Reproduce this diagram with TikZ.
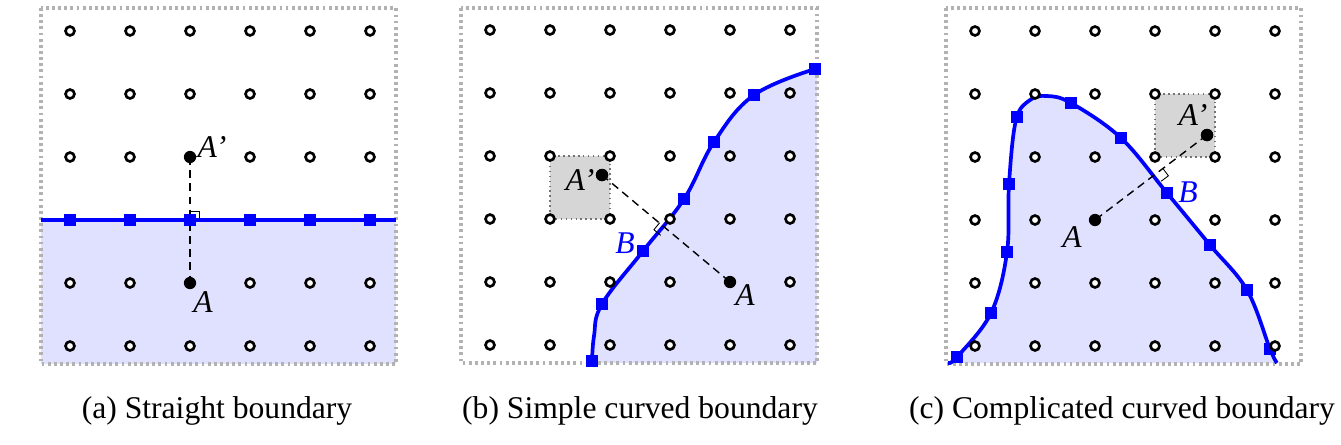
\documentclass[tikz,border=0pt]{standalone}
\usepackage{fontspec}
\setmainfont{Liberation Serif}
\begin{document}
\begin{tikzpicture}[x=0.02cm,y=-0.02cm,
  gdot/.style={circle,draw=black,fill=white,line width=1.5pt,inner sep=0pt,minimum size=5.1pt},
  bdot/.style={circle,fill=black,inner sep=0pt,minimum size=7pt},
  bsq/.style={rectangle,fill=blue,inner sep=0pt,minimum size=6.6pt},
  boxframe/.style={draw=black!30,line width=1.9pt,dash pattern=on 1.6pt off 1.9pt},
  regionfill/.style={fill=blue!12},
  bnd/.style={draw=blue,line width=2.1pt},
  perpline/.style={draw=black,dash pattern=on 4.5pt off 3pt,line width=0.8pt},
  ramark/.style={draw=black,line width=0.5pt},
  graybox/.style={fill=black!16,draw=black!55,line width=0.8pt,dotted},
  lbl/.style={font=\fontsize{18}{20}\selectfont\itshape,inner sep=0pt},
  blbl/.style={lbl,text=blue},
  captxt/.style={font=\fontsize{18}{20}\selectfont,anchor=base,inner sep=0pt}]
\useasboundingbox (0,0) rectangle (1341,444);

% ---------------- (a) ----------------
\fill[regionfill] (41,220) rectangle (396,364);
\draw[boxframe] (41,8) rectangle (396,364);
\draw[bnd] (41,220) -- (396,220);
\node[bdot] (Apa) at (190,157) {};
\node[bdot] (Aa) at (190,283) {};
\draw[perpline] (Apa.center) -- (Aa.center);
\draw[ramark] (190,211) -- (199,211) -- (199,220);
\foreach \x in {70,130,...,370} \node[bsq] at (\x,220) {};
\foreach \x in {70,130,...,370} \foreach \y in {31,94,157,283,346} {
  \ifnum\x=190 \ifnum\y=157 \else\ifnum\y=283 \else \node[gdot] at (\x,\y) {};\fi\fi
  \else \node[gdot] at (\x,\y) {};\fi}
\node[lbl] (la1) at (212,147) {A’};
\node[lbl] (la2) at (203,302) {A};
\node[captxt] (capa) at (217,418) {(a) Straight boundary};

% ---------------- (b) ----------------
\def\curveb{(592,363) (594,336) (602,304) (643,251) (684,199) (714,142) (754,95) (815,69)}
\fill[regionfill] plot[smooth,tension=0.65] coordinates {\curveb} -- (817,69) -- (817,363) -- cycle;
\draw[boxframe] (461,8) rectangle (817,363);
\draw[graybox] (550,156) rectangle (610,219);
\draw[bnd] plot[smooth,tension=0.65] coordinates {\curveb};
\node[bdot] (Apb) at (602,175) {};
\node[bdot] (Ab) at (730,282) {};
\draw[perpline] (Apb.center) -- (Ab.center);
\draw[ramark] (659.6,222.8) -- (653.9,229.7) -- (660.8,235.4);
\foreach \p in {(592,361),(602,304),(643,251),(684,199),(714,142),(754,95),(815,69)} \node[bsq] at \p {};
\foreach \x in {490,550,...,790} \foreach \y in {30,93,156,219,282,345} {
  \ifnum\x=730 \ifnum\y=282 \else \node[gdot] at (\x,\y) {};\fi
  \else \node[gdot] at (\x,\y) {};\fi}
\node[bdot] at (Apb) {};
\node[lbl] (lb1) at (580,180) {A’};
\node[lbl] (lb2) at (745,295) {A};
\node[blbl] (lb3) at (625,243) {B};
\node[captxt] (capb) at (640,418) {(b) Simple curved boundary};

% ---------------- (c) ----------------
\def\curvec{(948,363) (957,357) (991,313) (1007,252) (1009,184) (1016,120) (1030,100) (1047,96) (1071,103) (1121,138) (1167,193) (1210,245) (1247,290) (1270,349) (1277,363)}
\fill[regionfill] plot[smooth,tension=0.6] coordinates {\curvec} -- cycle;
\draw[boxframe] (946,8) rectangle (1301,364);
\draw[graybox] (1155,94) rectangle (1215,157);
\draw[bnd] plot[smooth,tension=0.6] coordinates {\curvec};
\node[bdot] (Apc) at (1207,135) {};
\node[bdot] (Ac) at (1095,220) {};
\draw[perpline] (Apc.center) -- (Ac.center);
\draw[ramark] (1163,168.6) -- (1168.4,175.8) -- (1161.2,181.2);
\foreach \p in {(957,357),(991,313),(1007,252),(1009,184),(1017,117),(1071,103),(1121,138),(1167,193),(1210,245),(1247,290),(1270,349)} \node[bsq] at \p {};
\foreach \x in {975,1035,...,1275} \foreach \y in {31,94,157,220,283,346} {
  \ifnum\x=1095 \ifnum\y=220 \else \node[gdot] at (\x,\y) {};\fi
  \else \node[gdot] at (\x,\y) {};\fi}
\node[bdot] at (Apc) {};
\node[lbl] (lc1) at (1193,115) {A’};
\node[lbl] (lc2) at (1072,237) {A};
\node[blbl] (lc3) at (1188,192) {B};
\node[captxt] (capc) at (1122,418) {(c) Complicated curved boundary};
\end{tikzpicture}
\end{document}
